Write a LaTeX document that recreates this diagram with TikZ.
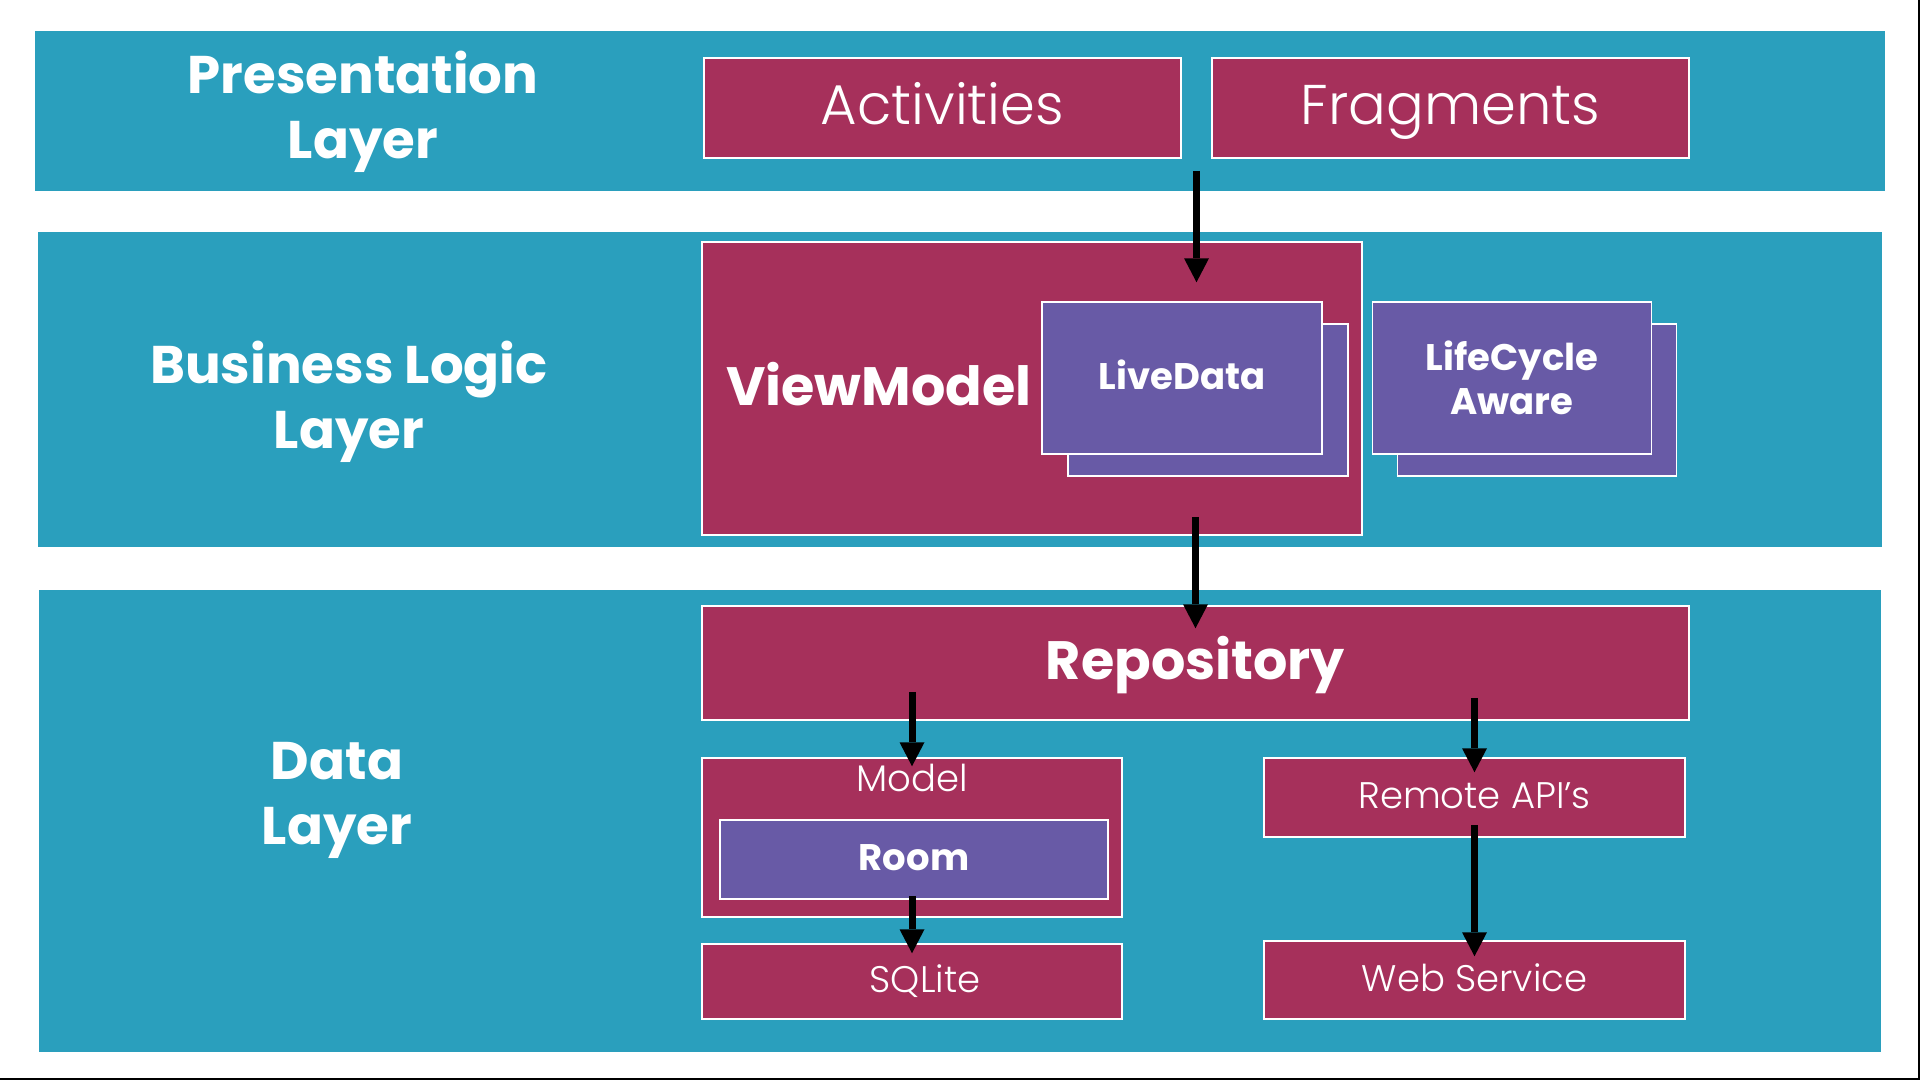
\documentclass[tikz,border=0pt]{standalone}
\usepackage{fontspec}
\newfontfamily\thinfont{Poppins Light}
\newfontfamily\heavyfont{Poppins Bold}
\usetikzlibrary{arrows.meta, positioning, calc}
\definecolor{bandteal}{HTML}{2A9FBD}
\definecolor{boxred}{HTML}{A6305B}
\definecolor{boxviolet}{HTML}{685AA6}
\tikzset{
  band/.style={rectangle, fill=bandteal, inner sep=0pt, anchor=north west},
  comp/.style={rectangle, draw=white, line width=1.5pt, fill=boxred,
               inner sep=0pt, text=white},
  inner/.style={comp, fill=boxviolet},
  bigline/.style={text height=39pt, text depth=5.5pt},
  smallline/.style={text height=26pt, text depth=3.7pt},
  ttl/.style={text=white, align=center, inner sep=0pt,
              font=\heavyfont\fontsize{53}{65}\selectfont},
  bigbold/.style={font=\heavyfont\fontsize{54}{60}\selectfont},
  smallbold/.style={font=\heavyfont\fontsize{37}{44}\selectfont},
  biglight/.style={font=\thinfont\fontsize{56}{60}\selectfont},
  smalllight/.style={font=\thinfont\fontsize{37}{44}\selectfont},
  arr/.style={-{Triangle[length=24pt, width=25pt, line width=0pt]}, line width=7pt},
}

\begin{document}
\begin{tikzpicture}[x=1pt, y=-1pt]
  \useasboundingbox (0,0) rectangle (1920,1080);

  \node[band, minimum width=1850pt, minimum height=160pt] (presBand) at (35,31) {};
  \node[band, minimum width=1844pt, minimum height=315pt] (bizBand) at (38,232) {};
  \node[band, minimum width=1842pt, minimum height=462pt] (dataBand) at (39,590) {};

  \node[ttl] (presTitle) at (363,112) {Presentation\\Layer};
  \node[ttl] (bizTitle) at (349,402) {Business Logic\\Layer};
  \node[ttl] (dataTitle) at (337,800) {Data\\Layer};

  \node[comp, bigline, biglight, minimum width=477pt, minimum height=100pt] (act) at (942.5,108) {Activities};
  \node[comp, bigline, biglight, minimum width=477pt, minimum height=100pt] (frag) at (1450.5,108) {Fragments};

  \node[comp, minimum width=660pt, minimum height=293pt] (vm) at (1032,388.5) {};
  \node[text=white, bigbold, inner sep=0pt, anchor=base west] (vmText) at (726,405) {ViewModel};
  \node[inner, minimum width=280pt, minimum height=152pt] (liveBack) at (1208,400) {};
  \node[inner, smallline, smallbold, minimum width=280pt, minimum height=152pt] (live) at (1182,378) {LiveData};
  \node[inner, minimum width=279pt, minimum height=152pt] (lifeBack) at (1537,400) {};
  \node[inner, smallbold, align=center, minimum width=279pt, minimum height=152pt] (life) at (1512,378) {LifeCycle\\Aware};

  \node[comp, bigline, bigbold, minimum width=987pt, minimum height=114pt] (repo) at (1195.5,663) {Repository};
  \node[comp, minimum width=420pt, minimum height=159pt,
        label={[text=white, smalllight, anchor=base, yshift=-34pt]north:Model}] (model) at (912,837.5) {};
  \node[inner, smallline, smallbold, minimum width=388pt, minimum height=79pt] (room) at (914,859.5) {Room};
  \node[comp, minimum width=420pt, minimum height=75pt,
        label={[text=white, smalllight, smallline, xshift=13pt]center:SQLite}] (sqlite) at (912,981.5) {};
  \node[comp, smallline, smalllight, minimum width=421pt, minimum height=79pt] (remote) at (1474.5,797.5) {Remote API’s};
  \node[comp, smallline, smalllight, minimum width=421pt, minimum height=78pt] (web) at (1474.5,980) {Web Service};

  \coordinate (split) at ($(act.south east)!0.5!(frag.south west)$);

  \draw[arr, shorten <=12pt, shorten >=19pt] (split) -- (split |- live.north);
  \draw[arr, shorten <=-19pt, shorten >=-23pt] (repo.north |- vm.south) -- (repo.north);
  \draw[arr, shorten <=-29pt, shorten >=-9pt] (model.north |- repo.south) -- (model.north);
  \draw[arr, shorten <=-23pt, shorten >=-15pt] (remote.north |- repo.south) -- (remote.north);
  \draw[arr, shorten <=-4pt, shorten >=-10pt] (sqlite.north |- room.south) -- (sqlite.north);
  \draw[arr, shorten <=-13pt, shorten >=-16pt] (remote.south) -- (web.north);

  \draw[line width=2pt] (1919,0) -- (1919,1079) -- (0,1079);
\end{tikzpicture}
\end{document}
